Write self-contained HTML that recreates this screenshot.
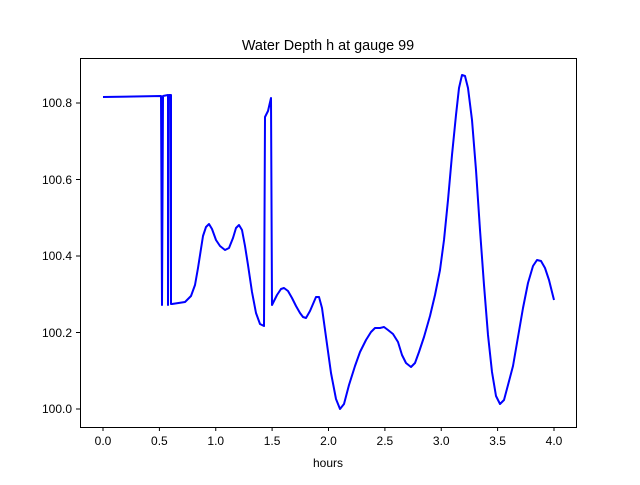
<!DOCTYPE html>
<html><head><style>body{margin:0;background:#fff}</style></head><body>
<svg width="640" height="480" xmlns="http://www.w3.org/2000/svg" font-family="Liberation Sans, DejaVu Sans, sans-serif">
<rect width="640" height="480" fill="#fff"/>
<polyline fill="none" stroke="#00f" stroke-width="2" stroke-linejoin="round" points="103,97 161,96 162,305 163,96 168,95 168,305 169,95 171,95 171,304 172,304 185,302 191,296 195,285 198,268 203,236 206,227 209,224 212,229 216,240 220,246 225,250 229,248 233,238 236,228 239,225 242,230 245,246 248,265 252,292 256,313 260,324 264,326 265,117 268,111 271,98 272,305 277,295 281,289 284,288 288,291 292,298 296,306 300,313 303,317 306,318 310,311 313,304 316,297 319,297 322,308 326,337 331,373 336,399 340,409 344,404 349,385 355,366 360,352 366,340 371,332 375,328 380,328 384,327 388,330 393,334 398,342 402,355 406,363 411,367 415,363 419,352 424,337 430,316 435,295 440,270 444,240 448,200 452,155 456,115 459,88 462,75 465,76 468,88 472,120 476,170 480,230 484,285 488,335 492,372 496,396 500,404 504,400 508,385 513,366 518,337 523,308 528,283 533,266 537,260 541,261 545,268 549,280 554,300"/>
<rect x="80.5" y="58.5" width="496" height="369" fill="none" stroke="#000" stroke-width="1"/>
<g stroke="#000">
<line x1="103" y1="427" x2="103" y2="431"/><line x1="159.4" y1="427" x2="159.4" y2="431"/><line x1="215.75" y1="427" x2="215.75" y2="431"/><line x1="272.1" y1="427" x2="272.1" y2="431"/><line x1="328.5" y1="427" x2="328.5" y2="431"/><line x1="384.9" y1="427" x2="384.9" y2="431"/><line x1="441.25" y1="427" x2="441.25" y2="431"/><line x1="497.6" y1="427" x2="497.6" y2="431"/><line x1="554" y1="427" x2="554" y2="431"/>
<line x1="76" y1="409" x2="80" y2="409"/><line x1="76" y1="332.5" x2="80" y2="332.5"/><line x1="76" y1="256" x2="80" y2="256"/><line x1="76" y1="179.5" x2="80" y2="179.5"/><line x1="76" y1="103" x2="80" y2="103"/>
</g>
<g font-size="12" fill="#000" text-anchor="middle">
<text x="103" y="445">0.0</text><text x="159.4" y="445">0.5</text><text x="215.75" y="445">1.0</text><text x="272.1" y="445">1.5</text><text x="328.5" y="445">2.0</text><text x="384.9" y="445">2.5</text><text x="441.25" y="445">3.0</text><text x="497.6" y="445">3.5</text><text x="554" y="445">4.0</text>
<text x="328" y="467">hours</text>
</g>
<g font-size="12" fill="#000" text-anchor="end">
<text x="72" y="413">100.0</text><text x="72" y="337">100.2</text><text x="72" y="260">100.4</text><text x="72" y="184">100.6</text><text x="72" y="107">100.8</text>
</g>
<text x="328" y="50" font-size="14.4" text-anchor="middle">Water Depth h at gauge 99</text>
</svg>
</body></html>
